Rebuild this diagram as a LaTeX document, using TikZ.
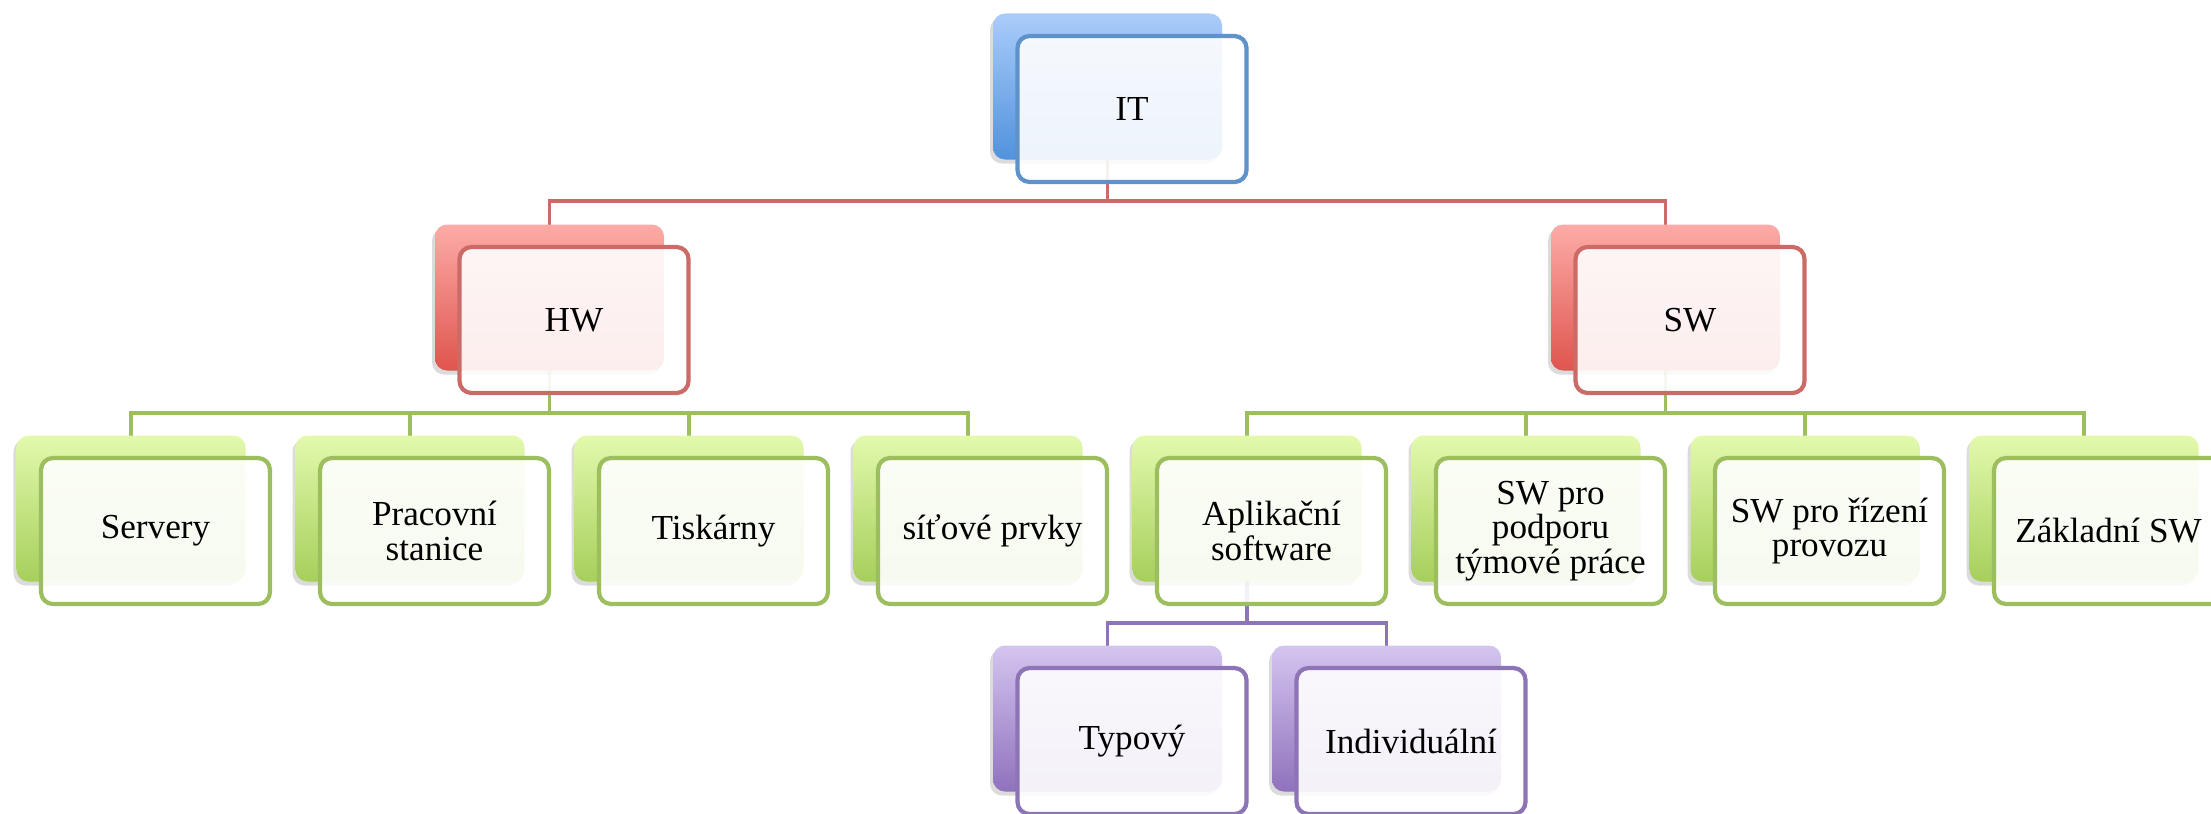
\documentclass[tikz,border=0pt]{standalone}
\usepackage{fontspec}
\setmainfont{Liberation Serif}
\usetikzlibrary{positioning,calc,shadows,backgrounds}

\definecolor{itLine}{HTML}{5F92CB}
\definecolor{itTop}{HTML}{AACCFA}
\definecolor{itBot}{HTML}{5192DD}
\definecolor{hwLine}{HTML}{CB6B67}
\definecolor{hwTop}{HTML}{FDABA7}
\definecolor{hwBot}{HTML}{DF554E}
\definecolor{grLine}{HTML}{9DBE5F}
\definecolor{grTop}{HTML}{E3F9AD}
\definecolor{grBot}{HTML}{A6CF5B}
\definecolor{puLine}{HTML}{8D74B4}
\definecolor{puTop}{HTML}{D4C5F0}
\definecolor{puBot}{HTML}{8F72BC}

\tikzset{
  box/.style={draw, line width=1.2pt, rounded corners=1.2mm, align=center,
    font=\fontsize{10pt}{9.8pt}\selectfont, minimum width=22.9mm,
    minimum height=14.6mm, inner sep=2pt, outer sep=0pt,
    fill=white, fill opacity=.9, text opacity=1},
  % back card behind each box
  back/.style 2 args={
    general shadow={shadow xshift=-2.75mm, shadow yshift=1.85mm, fill=black, opacity=.14},
    general shadow={shadow xshift=-2.45mm, shadow yshift=2.25mm, fill opacity=1,
      top color=#1, bottom color=#2}},
  itbox/.style={box, draw=itLine, back={itTop}{itBot}},
  hwbox/.style={box, draw=hwLine, back={hwTop}{hwBot}},
  grbox/.style={box, draw=grLine, back={grTop}{grBot}},
  pubox/.style={box, draw=puLine, back={puTop}{puBot}},
  link/.style={line width=1pt},
}

\begin{document}
\begin{tikzpicture}[node distance=6.5mm and 5mm]
\useasboundingbox (0,0) rectangle (22.11,-8.14);
\node[grbox] (serv) at (1.555,-5.31) {Servery};
\node[grbox, right=of serv] (prac) {Pracovní\\stanice};
\node[grbox, right=of prac] (tisk) {Tiskárny};
\node[grbox, right=of tisk] (site) {síťové prvky};
\node[grbox, right=of site] (aplik) {Aplikační\\software};
\node[grbox, right=of aplik] (podp) {SW pro\\podporu\\týmové práce};
\node[grbox, right=of podp] (rize) {SW pro řízení\\provozu};
\node[grbox, right=of rize] (zakl) {Základní SW};
\coordinate (hwmid) at ($(serv.north)!.5!(site.north)$);
\coordinate (swmid) at ($(aplik.north)!.5!(zakl.north)$);
\node[hwbox, above=of hwmid] (hw) {HW};
\node[hwbox, above=of swmid] (sw) {SW};
\coordinate (itmid) at ($(hw.north)!.5!(sw.north)$);
\node[itbox, above=of itmid] (it) {IT};
\node[pubox, below=6.4mm of aplik, xshift=-13.95mm] (typ) {Typový};
\node[pubox, right=of typ] (indi) {Individuální};

\begin{scope}[on background layer]
\foreach \kid in {hw,sw}
  \draw[link, hwLine] ([xshift=-2.45mm]it.center) -- ([xshift=-2.45mm,yshift=-1.9mm]it.south) -| ([xshift=-2.45mm]\kid.center);
\foreach \kid in {serv,prac,tisk,site}
  \draw[link, grLine] ([xshift=-2.45mm]hw.center) -- ([xshift=-2.45mm,yshift=-2mm]hw.south) -| ([xshift=-2.45mm]\kid.center);
\foreach \kid in {aplik,podp,rize,zakl}
  \draw[link, grLine] ([xshift=-2.45mm]sw.center) -- ([xshift=-2.45mm,yshift=-2mm]sw.south) -| ([xshift=-2.45mm]\kid.center);
\foreach \kid in {typ,indi}
  \draw[link, puLine] ([xshift=-2.45mm]aplik.center) -- ([xshift=-2.45mm,yshift=-1.9mm]aplik.south) -| ([xshift=-2.45mm]\kid.center);
\end{scope}
\end{tikzpicture}
\end{document}
